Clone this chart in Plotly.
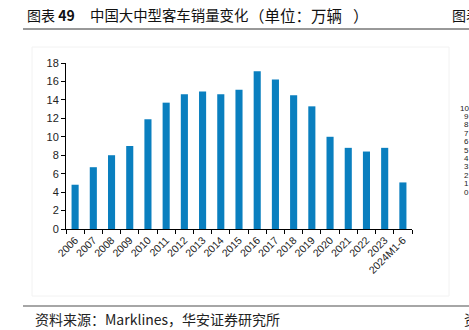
import plotly.graph_objects as go

categories = ["2006", "2007", "2008", "2009", "2010", "2011", "2012", "2013", "2014",
              "2015", "2016", "2017", "2018", "2019", "2020", "2021", "2022", "2023",
              "2024M1-6"]
sales = [4.8, 6.7, 8.0, 9.0, 11.9, 13.7, 14.6, 14.9, 14.6, 15.1, 17.1, 16.2, 14.5,
         13.3, 10.0, 8.8, 8.4, 8.8, 5.05]
y_ticks = [0, 2, 4, 6, 8, 10, 12, 14, 16, 18]
right_tick_labels = ["10", "9", "8", "7", "6", "5", "4", "3", "2", "1", "0"]

title_label = "图表 <b>49</b>"
title_main = "中国大中型客车销量变化"
title_unit = "（单位：万辆"
title_close = "）"
source_text = "资料来源：Marklines，华安证券研究所"

W, H = 469, 330
L, R, T, B = 66, 57, 63, 101
PW, PH = W - L - R, H - T - B


def px(x):
    return (x - L) / PW


def py(y):
    return (H - B - y) / PH


fig = go.Figure()
fig.add_trace(go.Bar(
    x=categories, y=sales,
    marker=dict(color="#0a7fbf", line=dict(width=0)),
    hoverinfo="skip",
))

cjk = "Noto Sans CJK SC"
annotations = [
    dict(text=title_label, x=px(25), y=py(15), xanchor="left", yanchor="middle",
         font=dict(family=cjk, size=14, color="#111")),
    dict(text=title_main, x=px(88), y=py(15), xanchor="left", yanchor="middle",
         font=dict(family=cjk, size=14.4, color="#111")),
    dict(text=title_unit, x=px(247), y=py(15), xanchor="left", yanchor="middle",
         font=dict(family=cjk, size=15.5, color="#111")),
    dict(text=title_close, x=px(351), y=py(15), xanchor="left", yanchor="middle",
         font=dict(family=cjk, size=15.5, color="#111")),
    dict(text="图表", x=px(450), y=py(15), xanchor="left", yanchor="middle",
         font=dict(family=cjk, size=14, color="#111")),
    dict(text=source_text, x=px(33), y=py(319), xanchor="left", yanchor="middle",
         font=dict(family=cjk, size=14, color="#222")),
    dict(text="资", x=px(462), y=py(319), xanchor="left", yanchor="middle",
         font=dict(family=cjk, size=14, color="#222")),
]
for i, lab in enumerate(right_tick_labels):
    yy = 108 + i * 8.4
    annotations.append(dict(text=lab, x=px(471), y=py(yy), xanchor="right",
                            yanchor="middle",
                            font=dict(family="Liberation Sans", size=8, color="#222")))
for a in annotations:
    a.update(xref="paper", yref="paper", showarrow=False)

shapes = [
    dict(type="rect", x0=px(32), x1=px(449), y0=py(47), y1=py(296),
         line=dict(color="#f2f2f2", width=1)),
    dict(type="line", x0=px(23), x1=px(470), y0=py(29), y1=py(29),
         line=dict(color="#333", width=1)),
    dict(type="line", x0=px(23), x1=px(470), y0=py(306), y1=py(306),
         line=dict(color="#888", width=1.5)),
]
for s in shapes:
    s.update(xref="paper", yref="paper", layer="below")

fig.update_layout(
    width=W, height=H, autosize=False,
    margin=dict(l=L, r=R, t=T, b=B, pad=0),
    paper_bgcolor="white", plot_bgcolor="white",
    bargap=0.61,
    showlegend=False,
    font=dict(family="Liberation Sans", color="#222"),
    annotations=annotations,
    shapes=shapes,
    xaxis=dict(
        type="category", tickangle=-45, tickson="boundaries",
        ticks="outside", ticklen=4, tickcolor="#000", tickwidth=1,
        showline=True, linecolor="#000", linewidth=1,
        showgrid=False, zeroline=False,
        tickfont=dict(family="Liberation Sans", size=10.5, color="#222"),
    ),
    yaxis=dict(
        range=[0, 18], tickvals=y_ticks,
        ticks="outside", ticklen=4, tickcolor="#000", tickwidth=1,
        showline=True, linecolor="#000", linewidth=1,
        showgrid=False, zeroline=False,
        tickfont=dict(family="Liberation Sans", size=11, color="#222"),
    ),
)

fig.write_html("out.html")
